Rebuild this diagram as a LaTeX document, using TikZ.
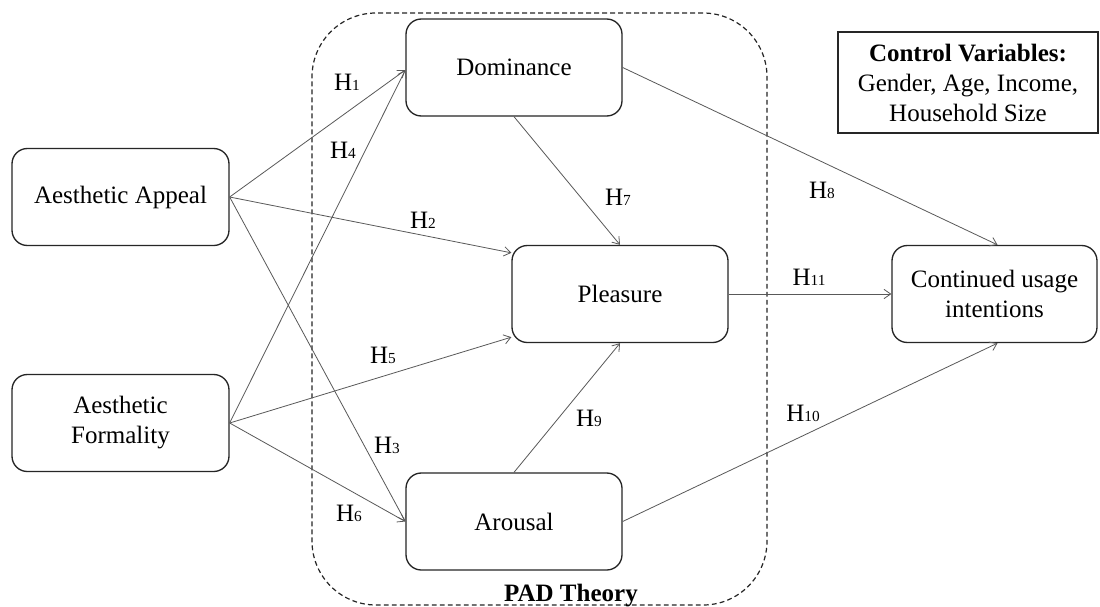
\documentclass[tikz,border=0pt]{standalone}
\usepackage{fontspec}
\setmainfont{Liberation Serif}
\usetikzlibrary{arrows.meta,calc}
\newcommand\mainfs{\fontsize{18.75pt}{22.5pt}\selectfont}
\newcommand\hyp[1]{H{\fontsize{11.5pt}{12pt}\selectfont #1}}
\begin{document}
\begin{tikzpicture}[x=0.75pt,y=-0.75pt,
  box/.style={draw=black!85, line width=1pt, rounded corners=11.5pt, inner sep=0pt,
    align=center, font=\mainfs, minimum width=0.75pt*216, minimum height=0.75pt*97},
  ctrlbox/.style={draw=black!85, line width=1pt, inner sep=0pt, align=center,
    font=\mainfs, minimum width=0.75pt*260, minimum height=0.75pt*101},
  padbox/.style={draw=black!85, line width=0.9pt, dash pattern=on 3.6pt off 2.4pt,
    rounded corners=48pt, inner sep=0pt, minimum width=0.75pt*455, minimum height=0.75pt*592},
  conn/.style={draw=black!65, line width=0.6pt, -{Straight Barb[length=5pt,width=7pt]}},
  lab/.style={font=\mainfs, inner sep=0pt}]
\useasboundingbox[fill=white] (0,0) rectangle (1100,607);

\node[padbox] (pad) at (539.5,309) {};
\node[font=\mainfs\bfseries, anchor=base, inner sep=0pt] (padlab) at (571,601) {PAD Theory};

\node[box, minimum width=0.75pt*217] (aa) at (120.5,197) {Aesthetic Appeal};
\node[box, minimum width=0.75pt*217] (af) at (120.5,423) {Aesthetic\\Formality};
\node[box] (dom) at (514,67.5) {Dominance};
\node[box] (ple) at (620,294) {Pleasure};
\node[box] (aro) at (514,521.5) {Arousal};
\node[box, minimum width=0.75pt*205] (cont) at (994.5,294) {Continued usage\\intentions};
\node[ctrlbox] (ctrl) at (968,82.5) {\textbf{Control Variables:}\\Gender, Age, Income,\\Household Size};

\draw[conn] (aa.east) -- ($(dom.west)+(0,2.5)$);
\draw[conn] (aa.east) -- ($(ple.north west)+(0,8)$);
\draw[conn] (aa.east) -- (aro.west);
\draw[conn] (af.east) -- ($(dom.west)+(0,2.5)$);
\draw[conn] (af.east) -- ($(ple.south west)+(0,-6)$);
\draw[conn] (af.east) -- (aro.west);
\draw[conn] (dom.south) -- (ple.north);
\draw[conn] (dom.east) -- ($(cont.north)+(3,0)$);
\draw[conn] (aro.north) -- (ple.south);
\draw[conn] (aro.east) -- ($(cont.south)+(3,0)$);
\draw[conn] (ple.east) -- (cont.west);

\node[lab] (h1) at (347,82) {\hyp{1}};
\node[lab] (h4) at (343,150) {\hyp{4}};
\node[lab] (h2) at (423,220) {\hyp{2}};
\node[lab] (h5) at (383,355) {\hyp{5}};
\node[lab] (h3) at (387,445) {\hyp{3}};
\node[lab] (h6) at (349,513) {\hyp{6}};
\node[lab] (h7) at (618,197) {\hyp{7}};
\node[lab] (h8) at (822,190) {\hyp{8}};
\node[lab] (h9) at (589,418) {\hyp{9}};
\node[lab] (h10) at (803,413) {\hyp{10}};
\node[lab] (h11) at (809,277) {\hyp{11}};
\end{tikzpicture}
\end{document}
